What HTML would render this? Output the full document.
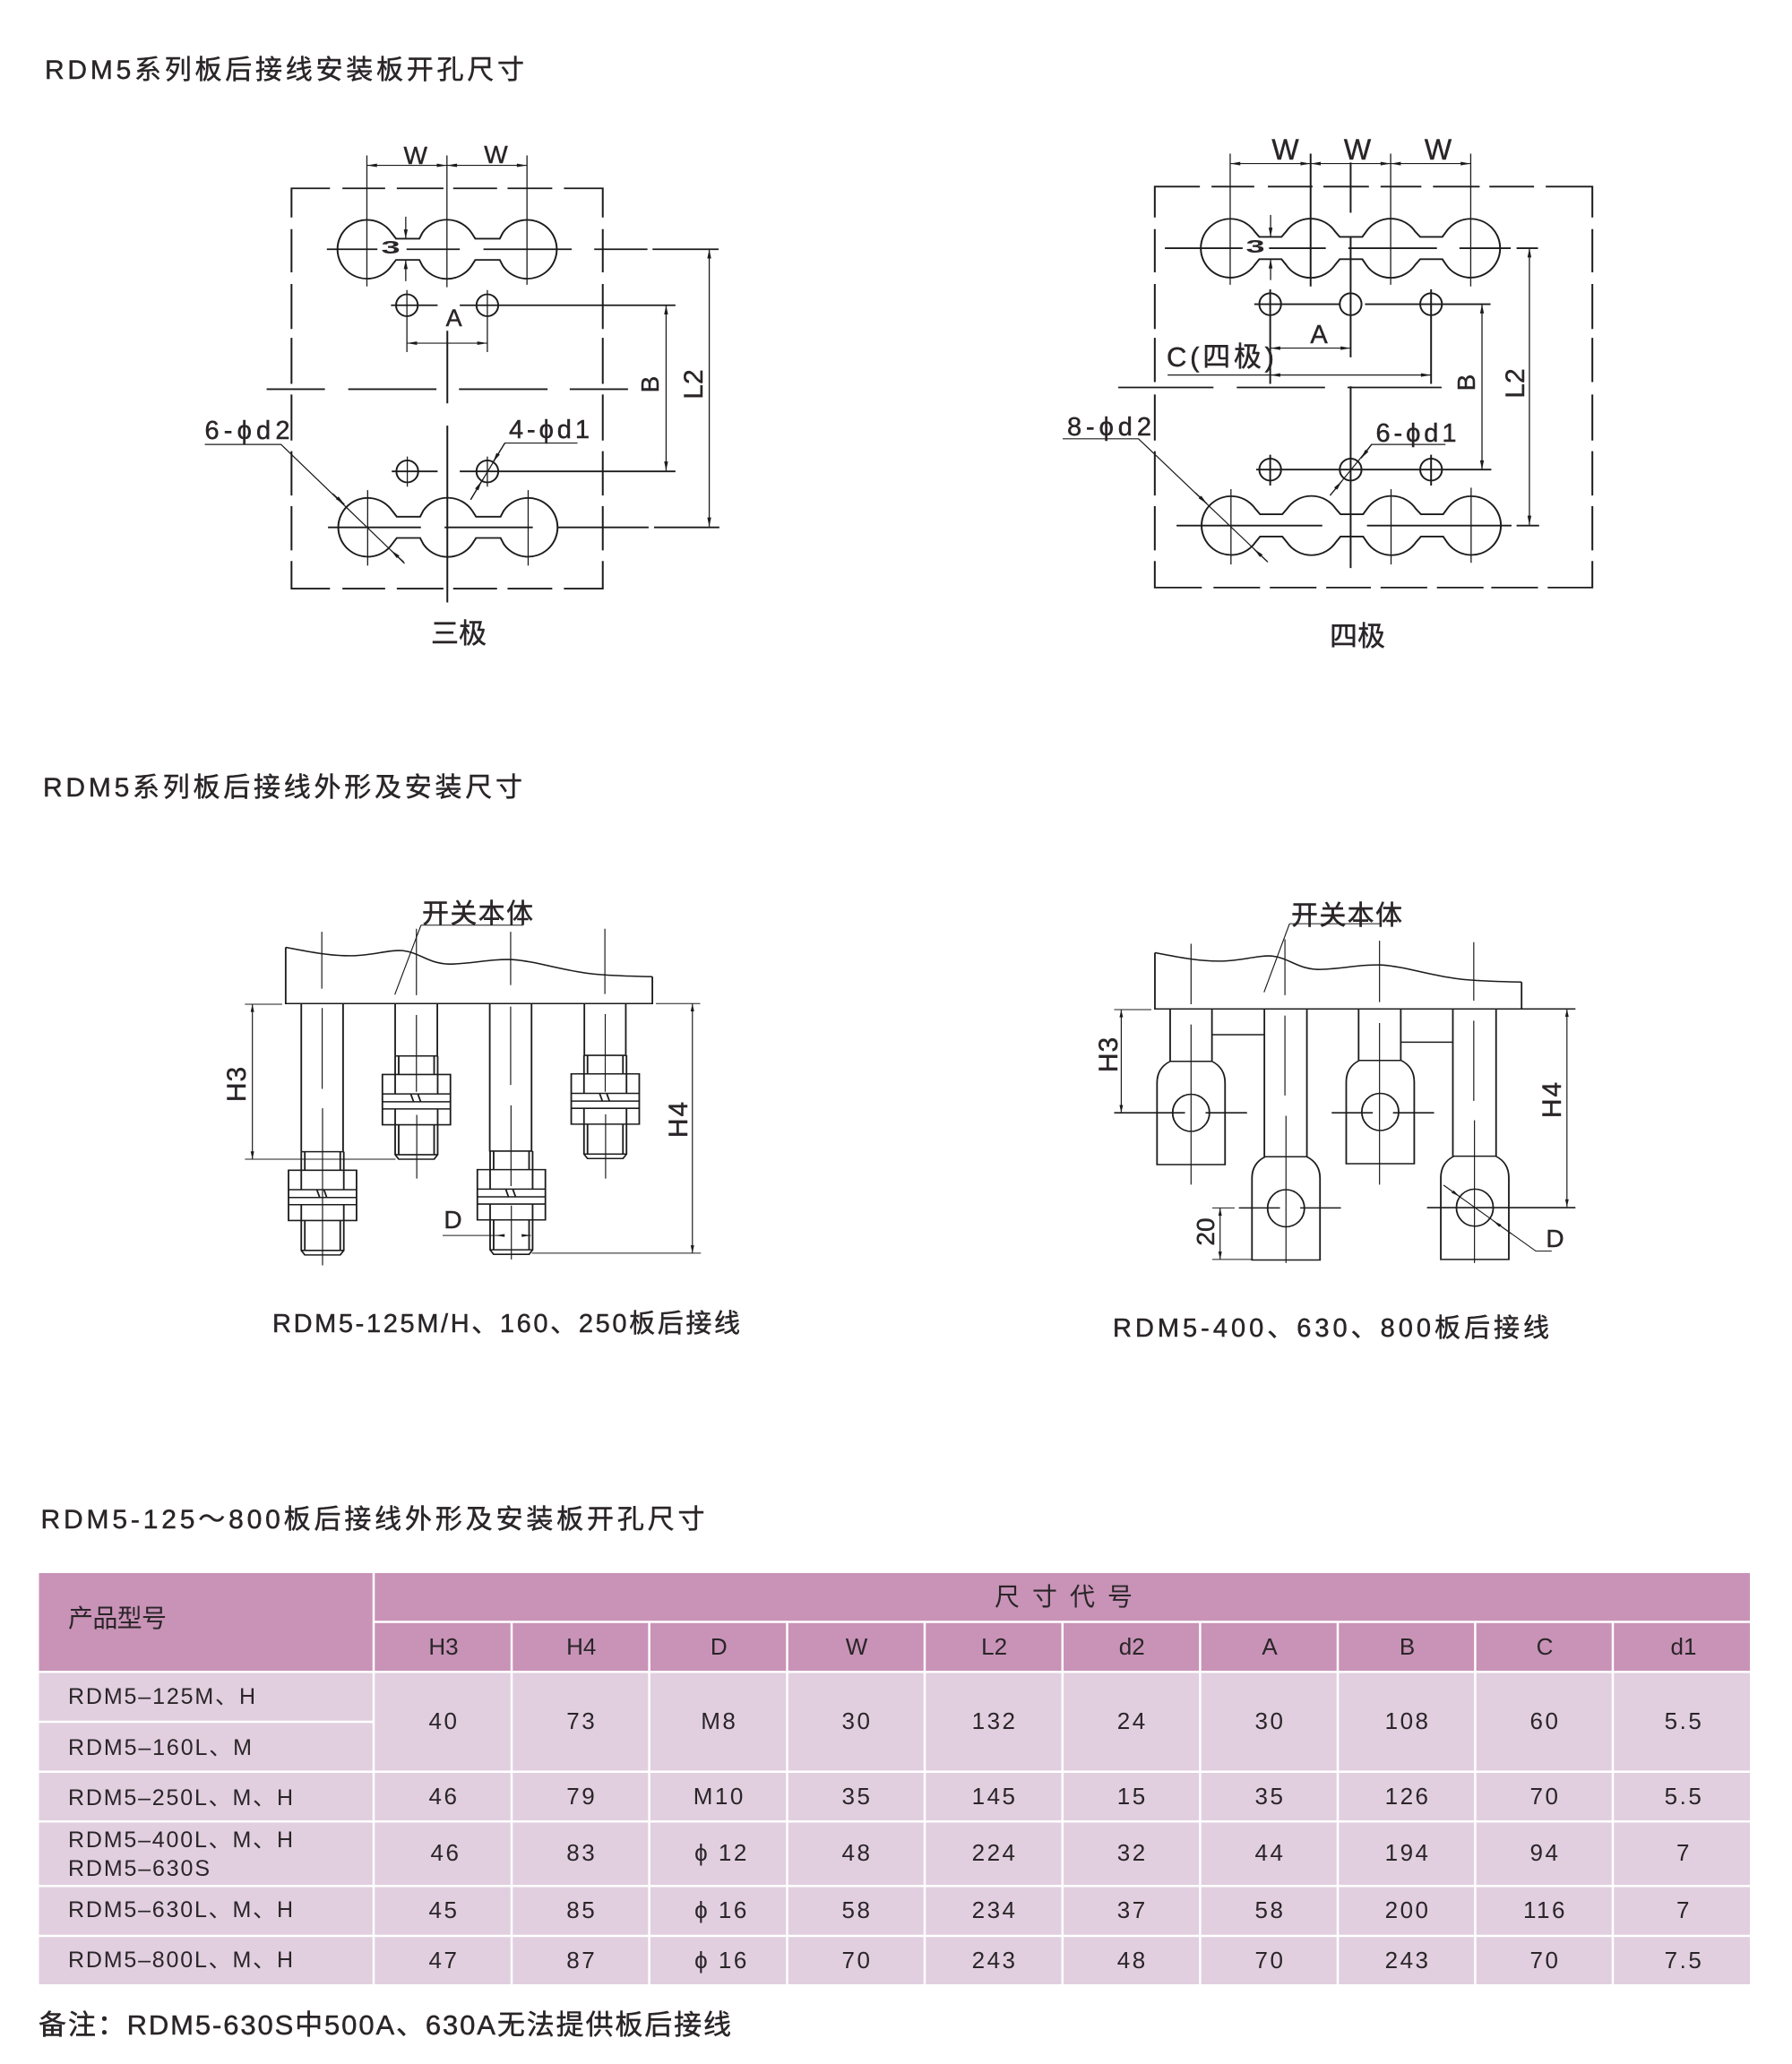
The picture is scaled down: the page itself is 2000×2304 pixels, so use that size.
<!DOCTYPE html>
<html><head><meta charset="utf-8"><title>RDM5</title>
<style>
html,body{margin:0;padding:0;background:#fff}
svg{display:block}
text{font-family:"Liberation Sans","Noto Sans CJK SC","DejaVu Sans",sans-serif;fill:#2a2528}
.d{fill:none;stroke:#1c1c1c;stroke-width:4.6}
.t{fill:none;stroke:#1c1c1c;stroke-width:3}
.ar{marker-start:url(#a);marker-end:url(#a)}
.ae{marker-end:url(#a)}
.v{font-size:26px;letter-spacing:2.5px;text-anchor:middle}
.l{font-size:25px}
.k{font-size:26px;text-anchor:middle}
.h{stroke:#2a2528;stroke-width:.45px}
</style></head><body>
<svg xmlns="http://www.w3.org/2000/svg" width="2000" height="2304" viewBox="0 0 2000 2304">
<defs>
<marker id="a" markerUnits="userSpaceOnUse" markerWidth="30" markerHeight="14" viewBox="-28 -7 30 14" refX="0" refY="0" orient="auto-start-reverse"><path d="M0 0L-26 -5L-26 5Z" fill="#1c1c1c"/></marker>
<path id="s3" class="d" d="M546 328L558 345H618L626 328A76 83 0 0 1 752 328L762 345H825L833 328A76 83 0 1 1 833 422L825 405H762L752 422A76 83 0 0 1 626 422L618 405H558L546 422A76 83 0 1 1 546 328Z"/>
<path id="s4" class="d" d="M531 325L543 340H600L612 325A76 83 0 0 1 738 325L750 340H808L818 325A76 83 0 0 1 944 325L957 340H1014L1024 325A76 83 0 1 1 1024 419L1014 403H957L944 419A76 83 0 0 1 818 419L808 403H750L738 419A76 83 0 0 1 612 419L600 403H543L531 419A76 83 0 1 1 531 325Z"/>
<path id="n" class="d" d="M-96 62H96V230H-96ZM-94 127H94M-94 153H94M-94 177H94M-60 0V127M60 0V127M-50 0V62M50 0V62M-60 0H60M-60 177V230M60 177V230M-16 127L-8 153M4 127L12 153M-60 230V330L-50 345H50L60 330V230M-50 230V330M50 230V330M-60 330H60"/>
<g id="lug"><path class="d" d="M-59 0H59Q96 22 96 72V345H-96V72Q-96 22 -59 0Z"/><ellipse class="d" cx="0" cy="172" rx="52" ry="62"/></g>
<path id="wave" class="d" d="M250 232C320 248 380 262 440 260C500 258 540 240 580 243C630 250 650 285 710 288C770 288 830 270 890 273C960 278 1060 320 1150 324C1200 328 1240 329 1285 330"/>
</defs>

<rect width="2000" height="2304" fill="#fff"/>

<!-- titles -->
<text class="h" x="50" y="88" font-size="30" textLength="535">RDM5系列板后接线安装板开孔尺寸</text>
<text class="h" x="48" y="889" font-size="30" textLength="535">RDM5系列板后接线外形及安装尺寸</text>
<text class="h" x="45.5" y="1706" font-size="30" textLength="741">RDM5-125～800板后接线外形及安装板开孔尺寸</text>

<!-- diagram 1: three-pole cutout -->
<g transform="translate(200 130) scale(.4337 .3954)">
<path class="d" d="M388 203H289V285M420 203H530M560 203H680M705 203H818M845 203H960M990 203H1090V285M289 318V440M289 473V600M289 625V755M289 785V915M289 945V1070M289 1100V1225M289 1255V1333H388M420 1333H530M560 1333H680M705 1333H818M845 1333H960M990 1333H1090V1255M1090 318V440M1090 473V600M1090 625V755M1090 785V915M1090 945V1070M1090 1100V1225"/>
<use href="#s3"/><use href="#s3" transform="translate(2 785)"/>
<path class="t" d="M483 110V480M689 110V482M895 110V475M586 490V665M793 490V665M587 960V1045M793 960V1045M485 1055V1268M898 1055V1268"/>
<path class="d" d="M380 375H510M585 375H722M783 375H1010M1068 375H1205M1218 375H1388M545 533H665M722 533H1277M547 1002H665M722 1002H1277M225 770H375M435 770H662M720 770H948M1005 770H1155M383 1160H622M683 1160H910M975 1160H1208M1222 1160H1390M690 605V810M690 873V1372"/>
<ellipse class="d" cx="586" cy="533" rx="28" ry="31"/><ellipse class="d" cx="793" cy="533" rx="28" ry="31"/>
<ellipse class="d" cx="587" cy="1002" rx="28" ry="31"/><ellipse class="d" cx="793" cy="1002" rx="28" ry="31"/>
<path class="t ar" d="M483 138H689"/><path class="t ar" d="M689 138H895"/><path class="t ar" d="M586 640H793"/>
<path class="t ar" d="M1253 533V1000"/><path class="t ar" d="M1364 375V1158"/>
<path class="t ae" d="M583 283V345"/><path class="t ae" d="M583 465V405"/>
<path class="t" d="M66 926H262L580 1262M1025 922H838L750 1082"/>
<path class="t ae" d="M395 1065L425 1095"/><path class="t ae" d="M578 1258L545 1225"/><path class="t ae" d="M838 922L808 975"/><path class="t ae" d="M750 1082L778 1030"/>
</g>
<text class="h" x="463.7" y="183" font-size="28" text-anchor="middle">W</text>
<text class="h" x="553.5" y="182" font-size="28" text-anchor="middle">W</text>
<text transform="translate(436 283) scale(1.9 1)" font-size="20" font-weight="bold" text-anchor="middle">3</text>
<text class="h" x="506.6" y="364" font-size="27" text-anchor="middle">A</text>
<text class="h" transform="translate(735 429) rotate(-90)" font-size="28" text-anchor="middle">B</text>
<text class="h" transform="translate(784 429) rotate(-90)" font-size="30" text-anchor="middle">L2</text>
<text class="h" x="228.5" y="490" font-size="29" textLength="95">6-ϕd2</text>
<text class="h" x="568" y="489" font-size="29" textLength="90">4-ϕd1</text>
<text class="h" x="512" y="718" font-size="31" text-anchor="middle">三极</text>

<!-- diagram 2: four-pole cutout -->
<g transform="translate(1170 130) scale(.4337 .3954)">
<path class="d" d="M390 198H274V285M420 198H530M565 198H680M708 198H825M855 198H960M990 198H1110M1135 198H1250M1280 198H1400V285M274 318V440M274 473V600M274 625V750M274 785V915M274 945V1070M274 1100V1225M274 1255V1330H395M425 1330H545M570 1330H690M715 1330H830M855 1330H975M1000 1330H1120M1140 1330H1260M1285 1330H1400V1255M1400 318V440M1400 473V600M1400 625V750M1400 785V915M1400 945V1070M1400 1100V1225"/>
<use href="#s4"/><use href="#s4" transform="translate(2 783)"/>
<path class="t" d="M468 105V475M881 105V475M1087 105V480M470 1052V1265M882 1052V1265M1088 1048V1260"/>
<path class="d" d="M675 105V480M778 130V272M778 340V680M778 762V1275M571 488V755M985 488V755M571 955V1042M985 955V1042M300 372H500M568 372H714M772 372H1000M1058 372H1190M1205 372H1260M530 530H750M815 530H1138M535 997H1140M180 765H425M485 765H712M770 765H1012M330 1155H705M820 1155H1192M1205 1155H1263"/>
<ellipse class="d" cx="571" cy="530" rx="28" ry="31"/><ellipse class="d" cx="778" cy="530" rx="28" ry="31"/><ellipse class="d" cx="985" cy="530" rx="28" ry="31"/>
<ellipse class="d" cx="571" cy="997" rx="28" ry="31"/><ellipse class="d" cx="778" cy="997" rx="28" ry="31"/><ellipse class="d" cx="985" cy="997" rx="28" ry="31"/>
<path class="t ar" d="M468 133H675"/><path class="t ar" d="M675 133H881"/><path class="t ar" d="M881 133H1087"/>
<path class="t ar" d="M571 654H778"/>
<path class="t" d="M307 730H571"/><path class="t ar" d="M571 730H985"/>
<path class="t ar" d="M1116 530V997"/><path class="t ar" d="M1238 372V1153"/>
<path class="t ae" d="M572 278V340"/><path class="t ae" d="M572 462V403"/>
<path class="t" d="M37 910H232L565 1258M1022 926H832L725 1070"/>
<path class="t ae" d="M378 1062L408 1093"/><path class="t ae" d="M563 1256L530 1222"/><path class="t ae" d="M832 926L805 965"/><path class="t ae" d="M725 1070L755 1030"/>
</g>
<text class="h" x="1434.5" y="178" font-size="32" text-anchor="middle">W</text>
<text class="h" x="1515" y="178" font-size="32" text-anchor="middle">W</text>
<text class="h" x="1605" y="178" font-size="32" text-anchor="middle">W</text>
<text transform="translate(1401 282) scale(1.9 1)" font-size="20" font-weight="bold" text-anchor="middle">3</text>
<text class="h" x="1472" y="383" font-size="29" text-anchor="middle">A</text>
<text class="h" x="1302" y="409" font-size="31" textLength="120">C(四极)</text>
<text class="h" transform="translate(1646 427) rotate(-90)" font-size="28" text-anchor="middle">B</text>
<text class="h" transform="translate(1701 428) rotate(-90)" font-size="30" text-anchor="middle">L2</text>
<text class="h" x="1191" y="486" font-size="29" textLength="94">8-ϕd2</text>
<text class="h" x="1535.5" y="493" font-size="29" textLength="90">6-ϕd1</text>
<text class="h" x="1515" y="721" font-size="31" text-anchor="middle">四极</text>

<!-- diagram 3 -->
<g transform="translate(220 980) scale(.3954 .334)">
<use href="#wave"/>
<path class="d" d="M250 232V420H1285V330"/>
<path class="d" d="M294 420V915M412 420V915M559 420V595M678 420V595M826 420V915M944 420V915M1093 420V593M1210 420V593"/>
<use href="#n" x="619" y="595"/><use href="#n" x="1152" y="593"/><use href="#n" x="354" y="915"/><use href="#n" x="887" y="913"/>
<path class="t" d="M352 180V370M353 435V705M354 770V1295M619 170V392M619 458V715M620 792V1005M885 180V358M885 430V692M886 760V1030M887 1095V1275M1151 170V388M1152 455V715M1153 790V1005"/>
<path class="t" d="M135 422H240M135 940H560M1295 420H1420M945 1254H1422M632 158H920M632 158L558 390M693 1195H842"/>
<path class="t ar" d="M156 422V940"/><path class="t ar" d="M1398 420V1254"/>
<path class="t ae" d="M864 1195H842"/><path class="t ae" d="M918 1195H942"/>
</g>
<text class="h" x="471" y="1030" font-size="30" textLength="124">开关本体</text>
<text class="h" transform="translate(274 1210) rotate(-90)" font-size="30" text-anchor="middle" letter-spacing="1">H3</text>
<text class="h" transform="translate(767 1249) rotate(-90)" font-size="30" text-anchor="middle" letter-spacing="2">H4</text>
<text class="h" x="505.5" y="1371" font-size="28" text-anchor="middle">D</text>
<text class="h" x="304" y="1487" font-size="29" textLength="522">RDM5-125M/H、160、250板后接线</text>

<!-- diagram 4 -->
<g transform="translate(1200 980) scale(.3954 .334)">
<use href="#wave" transform="translate(-25 18)"/>
<path class="d" d="M225 250V438H1412M1260 348V438"/>
<path class="d" d="M268 438V613M386 438V613M534 438V932M654 438V932M800 438V610M919 438V610M1066 438V930M1188 438V930M386 524H534M919 549H1066"/>
<use href="#lug" x="327" y="613"/><use href="#lug" x="595" y="932"/><use href="#lug" x="861" y="610"/><use href="#lug" x="1128" y="930"/>
<path class="t" d="M327 220V422M327 490V1025M592 205V392M592 460V727M595 795V1287M859 210V415M859 485V1025M1125 215V410M1125 477V745M1127 810V1287"/>
<path class="d" d="M110 785H310M368 785H485M462 1103H578M635 1103H750M724 785H840M897 785H1013M993 1102H1412"/>
<path class="t" d="M110 440H215M387 1103H450M387 1275H500M605 153H860M605 153L533 382M1040 1027L1300 1247H1345"/>
<path class="t ar" d="M130 440V785"/><path class="t ar" d="M409 1103V1275"/><path class="t ar" d="M1388 438V1100"/>
<path class="t ae" d="M1040 1027L1085 1065"/><path class="t ae" d="M1232 1190L1180 1146"/>
</g>
<text class="h" x="1441" y="1032" font-size="30" textLength="124">开关本体</text>
<text class="h" transform="translate(1247 1177) rotate(-90)" font-size="30" text-anchor="middle" letter-spacing="1">H3</text>
<text class="h" transform="translate(1742 1227) rotate(-90)" font-size="30" text-anchor="middle" letter-spacing="2">H4</text>
<text class="h" transform="translate(1355 1375) rotate(-90)" font-size="28" text-anchor="middle">20</text>
<text class="h" x="1735.5" y="1392" font-size="28" text-anchor="middle">D</text>
<text class="h" x="1242" y="1492" font-size="29" textLength="487">RDM5-400、630、800板后接线</text>

<!-- table -->
<rect x="43.5" y="1756" width="1909.5" height="459" fill="#e1cfe0"/>
<rect x="43.5" y="1756" width="1909.5" height="110" fill="#c893b7"/>
<g stroke="#fff" stroke-width="2.5" fill="none">
<path d="M417 1756V2215M571 1811V2215M724.6 1811V2215M878.5 1811V2215M1032 1811V2215M1185.8 1811V2215M1339.4 1811V2215M1493 1811V2215M1646.4 1811V2215M1800 1811V2215"/>
<path d="M417 1810.5H1953M43.5 1866.2H1953M43.5 1922H417M43.5 1977.7H1953M43.5 2033.3H1953M43.5 2105.3H1953M43.5 2161H1953"/>
</g>
<text x="76" y="1816" font-size="28" textLength="110">产品型号</text>
<text x="1110" y="1792" font-size="28" textLength="154">尺寸代号</text>
<text class="k" x="495" y="1847">H3</text><text class="k" x="648.7" y="1847">H4</text><text class="k" x="802.3" y="1847">D</text><text class="k" x="956" y="1847">W</text><text class="k" x="1109.6" y="1847">L2</text><text class="k" x="1263.2" y="1847">d2</text><text class="k" x="1417" y="1847">A</text><text class="k" x="1570.6" y="1847">B</text><text class="k" x="1724" y="1847">C</text><text class="k" x="1879" y="1847">d1</text>
<text class="l" x="76" y="1902" textLength="209">RDM5–125M、H</text>
<text class="l" x="76" y="1959" textLength="205">RDM5–160L、M</text>
<text class="l" x="76" y="2015" textLength="251">RDM5–250L、M、H</text>
<text class="l" x="76" y="2062" textLength="251">RDM5–400L、M、H</text>
<text class="l" x="76" y="2094" textLength="158">RDM5–630S</text>
<text class="l" x="76" y="2140" textLength="251">RDM5–630L、M、H</text>
<text class="l" x="76" y="2196" textLength="251">RDM5–800L、M、H</text>

<g transform="translate(1.5 -1)">
<text class="v" x="494" y="1931">40</text><text class="v" x="647.7" y="1931">73</text><text class="v" x="801.3" y="1931">M8</text><text class="v" x="955" y="1931">30</text><text class="v" x="1108.6" y="1931">132</text><text class="v" x="1262.2" y="1931">24</text><text class="v" x="1416" y="1931">30</text><text class="v" x="1569.6" y="1931">108</text><text class="v" x="1723" y="1931">60</text><text class="v" x="1878" y="1931">5.5</text>
<text class="v" x="494" y="2015">46</text><text class="v" x="647.7" y="2015">79</text><text class="v" x="801.3" y="2015">M10</text><text class="v" x="955" y="2015">35</text><text class="v" x="1108.6" y="2015">145</text><text class="v" x="1262.2" y="2015">15</text><text class="v" x="1416" y="2015">35</text><text class="v" x="1569.6" y="2015">126</text><text class="v" x="1723" y="2015">70</text><text class="v" x="1878" y="2015">5.5</text>
<text class="v" x="496" y="2078">46</text><text class="v" x="647.7" y="2078">83</text><text class="v" x="804" y="2078">ϕ 12</text><text class="v" x="955" y="2078">48</text><text class="v" x="1108.6" y="2078">224</text><text class="v" x="1262.2" y="2078">32</text><text class="v" x="1416" y="2078">44</text><text class="v" x="1569.6" y="2078">194</text><text class="v" x="1723" y="2078">94</text><text class="v" x="1878" y="2078">7</text>
<text class="v" x="494" y="2142">45</text><text class="v" x="647.7" y="2142">85</text><text class="v" x="804" y="2142">ϕ 16</text><text class="v" x="955" y="2142">58</text><text class="v" x="1108.6" y="2142">234</text><text class="v" x="1262.2" y="2142">37</text><text class="v" x="1416" y="2142">58</text><text class="v" x="1569.6" y="2142">200</text><text class="v" x="1723" y="2142">116</text><text class="v" x="1878" y="2142">7</text>
<text class="v" x="494" y="2198">47</text><text class="v" x="647.7" y="2198">87</text><text class="v" x="804" y="2198">ϕ 16</text><text class="v" x="955" y="2198">70</text><text class="v" x="1108.6" y="2198">243</text><text class="v" x="1262.2" y="2198">48</text><text class="v" x="1416" y="2198">70</text><text class="v" x="1569.6" y="2198">243</text><text class="v" x="1723" y="2198">70</text><text class="v" x="1878" y="2198">7.5</text>
</g>

<text class="h" x="43" y="2271" font-size="31" textLength="773">备注：RDM5-630S中500A、630A无法提供板后接线</text>
</svg>
</body></html>
